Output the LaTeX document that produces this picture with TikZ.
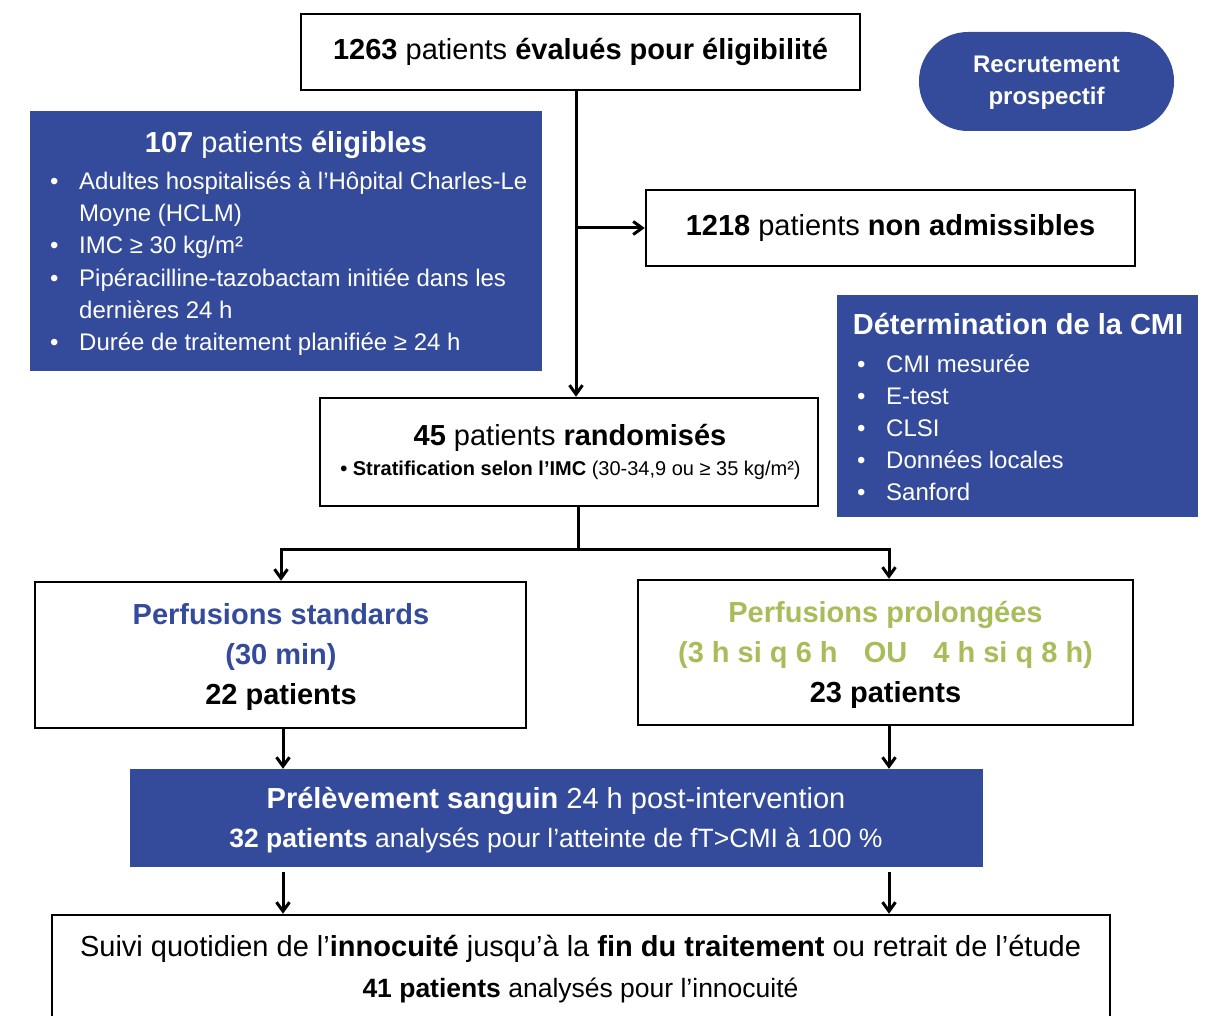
\documentclass[tikz,border=0pt]{standalone}
\usepackage{fontspec}
\setmainfont{Liberation Sans}
\usetikzlibrary{arrows.meta}
\definecolor{myblue}{RGB}{52,75,155}
\definecolor{mygreen}{RGB}{169,188,90}
\begin{document}
\begin{tikzpicture}[x=1pt,y=-1pt,
  wbox/.style={draw=black,line width=2.5pt,fill=white,inner sep=0pt,rectangle},
  bbox/.style={fill=myblue,inner sep=0pt,rectangle},
  conn/.style={line width=3pt},
  arr/.style={conn,-{Straight Barb[length=9pt,width=13pt]}},
  T/.style={anchor=base,inner sep=0pt,font=\fontsize{29}{32}\selectfont},
  S/.style={anchor=base,inner sep=0pt,font=\fontsize{26.5}{30}\selectfont},
  L/.style={anchor=base west,inner sep=0pt,font=\fontsize{24}{28}\selectfont,text=white},
  ]
\useasboundingbox (0,0) rectangle (1209,1016);
\clip (0,0) rectangle (1209,1016);
% boxes
\node[wbox,minimum width=559pt,minimum height=76pt] (top) at (580.5,52) {};
\node[bbox,minimum width=255pt,minimum height=99pt,rounded corners=49pt] (pill) at (1046.5,81.5) {};
\node[bbox,minimum width=512pt,minimum height=260pt] (elig) at (286,241) {};
\node[wbox,minimum width=489pt,minimum height=76pt] (nonad) at (890.5,228) {};
\node[bbox,minimum width=361pt,minimum height=222pt] (cmi) at (1017.5,406) {};
\node[wbox,minimum width=498pt,minimum height=108pt] (rand) at (569,452) {};
\node[wbox,minimum width=491pt,minimum height=146pt] (std) at (280.5,655) {};
\node[wbox,minimum width=495pt,minimum height=145pt] (pro) at (885.5,652.5) {};
\node[bbox,minimum width=853pt,minimum height=98pt] (prel) at (556.5,818) {};
\node[wbox,minimum width=1058pt,minimum height=125pt] (suivi) at (581,977.5) {};
% connectors
\coordinate (br) at (576,228);
\draw[arr] (top.south -| br) -- (rand.north -| br);
\draw[arr] (br) -- (nonad.west);
\coordinate (sp) at (578,549);
\coordinate (jl) at (281,549);
\coordinate (jr) at (889,549);
\draw[conn] (rand.south -| sp) -- (sp);
\draw[conn,line cap=rect] (jl) -- (jr);
\draw[arr] (jl) -- (std.north -| jl);
\draw[arr] (jr) -- (pro.north -| jr);
\coordinate (al) at (283,0);
\coordinate (ar) at (889,0);
\draw[arr] (std.south -| al) -- (prel.north -| al);
\draw[arr] (pro.south -| ar) -- (prel.north -| ar);
\coordinate (pl) at ([yshift=-5pt]prel.south);
\draw[arr] (pl -| al) -- (suivi.north -| al);
\draw[arr] (pl -| ar) -- (suivi.north -| ar);
% texts
\node[T] (t1) at (580.5,60) {\textbf{1263} patients \textbf{évalués pour éligibilité}};
\node[anchor=base,inner sep=0pt,font=\fontsize{24}{28}\selectfont\bfseries,text=white] (r1) at (1046.5,73) {Recrutement};
\node[anchor=base,inner sep=0pt,font=\fontsize{24}{28}\selectfont\bfseries,text=white] (r2) at (1046.5,105) {prospectif};
\node[T,text=white] (e0) at (286,153) {\textbf{107} patients \textbf{éligibles}};
\node[L] (eb1) at (50,190) {•};
\node[L] (e1) at (79,190) {Adultes hospitalisés à l’Hôpital Charles-Le};
\node[L] (e2) at (79,222) {Moyne (HCLM)};
\node[L] (eb3) at (50,254) {•};
\node[L] (e3) at (79,254) {IMC ≥ 30 kg/m²};
\node[L] (eb4) at (50,286) {•};
\node[L] (e4) at (79,286) {Pipéracilline-tazobactam initiée dans les};
\node[L] (e5) at (79,318) {dernières 24 h};
\node[L] (eb6) at (50,350) {•};
\node[L] (e6) at (79,350) {Durée de traitement planifiée ≥ 24 h};
\node[T] (n1) at (890.5,236) {\textbf{1218} patients \textbf{non admissibles}};
\node[T,text=white,font=\fontsize{29}{32}\selectfont\bfseries] (c0) at (1018,334) {Détermination de la CMI};
\node[L] (cb1) at (857,372) {•};
\node[L] (c1) at (886,372) {CMI mesurée};
\node[L] (cb2) at (857,404) {•};
\node[L] (c2) at (886,404) {E-test};
\node[L] (cb3) at (857,436) {•};
\node[L] (c3) at (886,436) {CLSI};
\node[L] (cb4) at (857,468) {•};
\node[L] (c4) at (886,468) {Données locales};
\node[L] (cb5) at (857,500) {•};
\node[L] (c5) at (886,500) {Sanford};
\node[T] (ra1) at (570,445) {\textbf{45} patients \textbf{randomisés}};
\node[anchor=base,inner sep=0pt,font=\fontsize{20}{24}\selectfont] (ra2) at (570.5,475) {\textbf{• Stratification selon l’IMC} (30-34,9 ou ≥ 35 kg/m²)};
\node[T,text=myblue,font=\fontsize{29}{32}\selectfont\bfseries] (s1) at (281,624) {Perfusions standards};
\node[T,text=myblue,font=\fontsize{29}{32}\selectfont\bfseries] (s2) at (281,664) {(30 min)};
\node[T,font=\fontsize{29}{32}\selectfont\bfseries] (s3) at (281,704) {22 patients};
\node[T,text=mygreen,font=\fontsize{29}{32}\selectfont\bfseries] (p1) at (885.5,622) {Perfusions prolongées};
\node[T,text=mygreen,font=\fontsize{29}{32}\selectfont\bfseries] (p2) at (885.5,662) {(3 h si q 6 h\hspace{0.9em}OU\hspace{0.9em}4 h si q 8 h)};
\node[T,font=\fontsize{29}{32}\selectfont\bfseries] (p3) at (885.5,702) {23 patients};
\node[T,text=white] (pr1) at (556,808) {\textbf{Prélèvement sanguin} 24 h post-intervention};
\node[S,text=white] (pr2) at (556,847) {\textbf{32 patients} analysés pour l’atteinte de fT>CMI à 100 \%};
\node[T] (su1) at (580.5,956) {Suivi quotidien de l’\textbf{innocuité} jusqu’à la \textbf{fin du traitement} ou retrait de l’étude};
\node[S] (su2) at (580.5,997) {\textbf{41 patients} analysés pour l’innocuité};
\end{tikzpicture}
\end{document}
